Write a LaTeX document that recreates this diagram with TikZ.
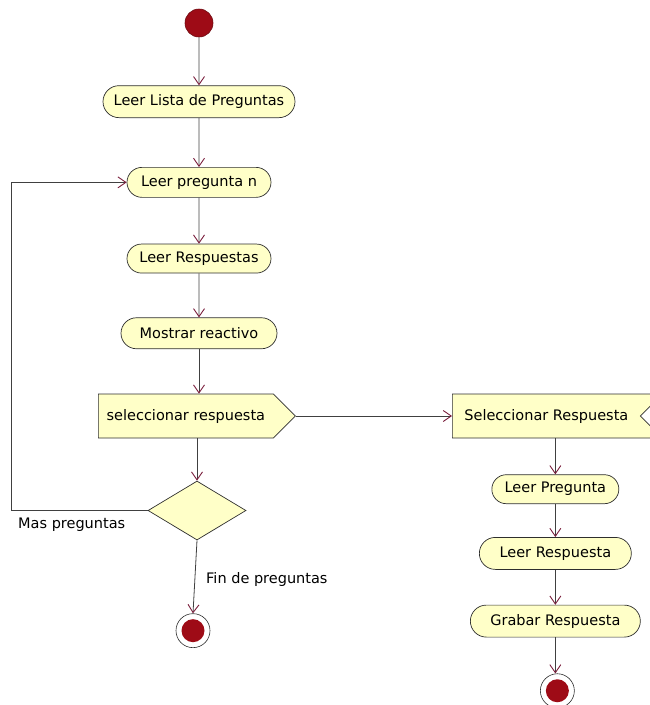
\documentclass[tikz,border=0pt]{standalone}
\usepackage{fontspec}
\setmainfont{DejaVu Sans}
\usetikzlibrary{arrows.meta,positioning,shapes.misc,shapes.geometric,shapes.symbols}
\definecolor{actfill}{HTML}{FFFFC8}
\definecolor{actdraw}{HTML}{2E2E2E}
\definecolor{flow}{HTML}{404040}
\definecolor{tipc}{HTML}{7A1E3C}
\definecolor{dot}{HTML}{9E0B16}
\definecolor{dotline}{HTML}{6E0A10}
\tikzset{
  >={Straight Barb[length=8pt,width=11pt,line width=0.9pt,color=tipc]},
  txt/.style={font=\fontsize{14.5pt}{17pt}\selectfont},
  act/.style={txt,rounded rectangle,draw=actdraw,fill=actfill,line width=0.7pt,minimum height=31pt,inner xsep=4pt},
  sig/.style={txt,signal,draw=actdraw,fill=actfill,line width=0.7pt,minimum height=44pt,inner xsep=6pt},
  decision/.style={diamond,draw=actdraw,fill=actfill,line width=0.7pt,minimum width=98pt,minimum height=59pt,inner sep=0pt},
  initst/.style={circle,fill=dot,draw=dotline,line width=0.6pt,minimum size=28pt,inner sep=0pt},
  finst/.style={circle,draw=actdraw,fill=white,line width=0.6pt,minimum size=34pt,inner sep=0pt,
    path picture={\fill[dot] (path picture bounding box.center) circle (11.5pt);}},
  arr/.style={->,draw=flow,line width=0.8pt},
  lab/.style={txt,inner sep=0pt,text=black},
}
\begin{document}
\begin{tikzpicture}[x=1pt,y=-1pt]
\useasboundingbox (0,0) rectangle (650,705);
\clip (0,0) rectangle (650,705);
% left column
\node[initst] (ini) at (199,23) {};
\node[act,minimum width=200pt,minimum height=32pt,below=48pt of ini] (lista) {Leer Lista de Preguntas};
\node[act,minimum width=152pt,minimum height=30pt,below=49pt of lista] (pn) {Leer pregunta n};
\node[act,minimum width=152pt,minimum height=29pt,below=46pt of pn] (resp) {Leer Respuestas};
\node[act,minimum width=164pt,minimum height=31pt,below=44pt of resp] (most) {Mostrar reactivo};
\node[sig,signal to=east,signal from=nowhere,minimum width=197pt,anchor=west] (snd) at (98,416) {seleccionar respuesta};
\node[decision] (dec) at (197,510.5) {};
\node[finst,below=73pt of dec,xshift=-4pt] (endl) {};
\node[lab,anchor=west] (mas) at (18,525) {Mas preguntas};
\node[lab,anchor=west] (fin) at (206,579) {Fin de preguntas};
% right column
\node[sig,signal to=nowhere,signal from=east,minimum width=210pt,anchor=west] (acc) at (452,416) {Seleccionar Respuesta};
\node[act,minimum width=135pt,minimum height=29pt,below=36pt of acc,xshift=9pt] (lp) {Leer Pregunta};
\node[act,minimum width=160pt,minimum height=32pt,below=33pt of lp] (lr) {Leer Respuesta};
\node[act,minimum width=178pt,minimum height=32pt,below=35pt of lr] (gr) {Grabar Respuesta};
\node[finst,below=36pt of gr,xshift=2pt] (endr) {};
% flows
\foreach \u/\v in {ini/lista,lista/pn,pn/resp,resp/most} \draw[arr] (\u)--(\v);
\draw[arr] (most.south) -- (most.south |- snd.north);
\draw[arr] (dec.north |- snd.south) -- (dec.north);
\draw[arr] (dec.south) -- (endl.north);
\draw[arr] (dec.west) -- ++(-136,0) |- (pn.west);
\draw[arr] (snd.east) -- (acc.west);
\draw[arr] (lp.north |- acc.south) -- (lp.north);
\foreach \u/\v in {lp/lr,lr/gr} \draw[arr] (\u.south)--(\v.north);
\draw[arr] (gr.south) -- (gr.south |- endr.north);
\end{tikzpicture}
\end{document}
